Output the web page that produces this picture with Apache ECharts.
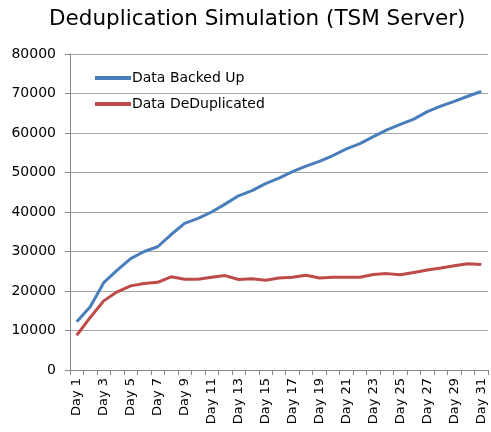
<!DOCTYPE html>
<html>
<head>
<meta charset="utf-8">
<script src="https://cdn.jsdelivr.net/npm/echarts@6/dist/echarts.min.js"></script>
<style>
html,body{margin:0;padding:0;background:#fff;}
#main{width:491px;height:432px;}
</style>
</head>
<body>
<div id="main"></div>
<script>
// days
var days = [];
for (var i = 1; i <= 31; i++) { days.push('Day ' + i); }

var backedUp = [12200, 16000, 22100, 25300, 28200, 30000, 31200, 34300, 37100, 38400,
    40000, 42000, 44100, 45400, 47200, 48600, 50200, 51600, 52800, 54300,
    56000, 57300, 59100, 60800, 62200, 63500, 65400, 66800, 68000, 69300, 70500];

var deduped = [8800, 13300, 17500, 19800, 21300, 21900, 22200, 23600, 23000, 23000,
    23500, 23900, 22900, 23100, 22700, 23300, 23500, 24000, 23300, 23500,
    23500, 23500, 24200, 24400, 24100, 24700, 25300, 25800, 26400, 26900, 26700];

var yTicks = [0, 80000, 10000]; // min, max, step

var dom = document.getElementById("main");
var myChart = echarts.init(dom);
var option = {
    animation: false,
    backgroundColor: '#fff',
    title: {
        text: 'Deduplication Simulation (TSM Server)',
        left: 44,
        top: 3,
        textStyle: {fontFamily: 'DejaVu Sans', fontSize: 21.5, fontWeight: 'normal', color: '#000'}
    },
    legend: {
        left: 90,
        top: 66,
        orient: 'vertical',
        itemGap: 12,
        itemWidth: 36,
        itemHeight: 4,
        icon: 'rect',
        textStyle: {fontFamily: 'DejaVu Sans', fontSize: 14, color: '#000', padding: [0, 0, 0, -4]},
        data: ['Data Backed Up', 'Data DeDuplicated']
    },
    grid: {left: 70, top: 54, right: 3, bottom: 62},
    xAxis: {
        type: 'category',
        data: days,
        boundaryGap: true,
        axisLine: {lineStyle: {color: '#888'}},
        axisTick: {show: true, interval: 0, length: 5, lineStyle: {color: '#888'}},
        axisLabel: {
            interval: 1,
            rotate: 90,
            fontFamily: 'DejaVu Sans',
            fontSize: 13,
            color: '#000',
            margin: 8
        }
    },
    yAxis: {
        type: 'value',
        min: yTicks[0],
        max: yTicks[1],
        interval: yTicks[2],
        axisLine: {show: true, lineStyle: {color: '#888'}},
        axisTick: {show: true, length: 5, lineStyle: {color: '#888'}},
        splitLine: {lineStyle: {color: '#a6a6a6'}},
        axisLabel: {
            fontFamily: 'DejaVu Sans', fontSize: 14, color: '#000', margin: 14,
            formatter: function (v) { return String(v); }
        }
    },
    series: [{
        name: 'Data Backed Up',
        type: 'line',
        data: backedUp,
        showSymbol: false,
        symbol: 'none',
        color: '#4a7ebb',
        lineStyle: {width: 3, color: '#4a7ebb'}
    }, {
        name: 'Data DeDuplicated',
        type: 'line',
        data: deduped,
        showSymbol: false,
        symbol: 'none',
        color: '#be4b48',
        lineStyle: {width: 3, color: '#be4b48'}
    }]
};
if (option && typeof option === "object") {
    myChart.setOption(option, true);
}
</script>
</body>
</html>
